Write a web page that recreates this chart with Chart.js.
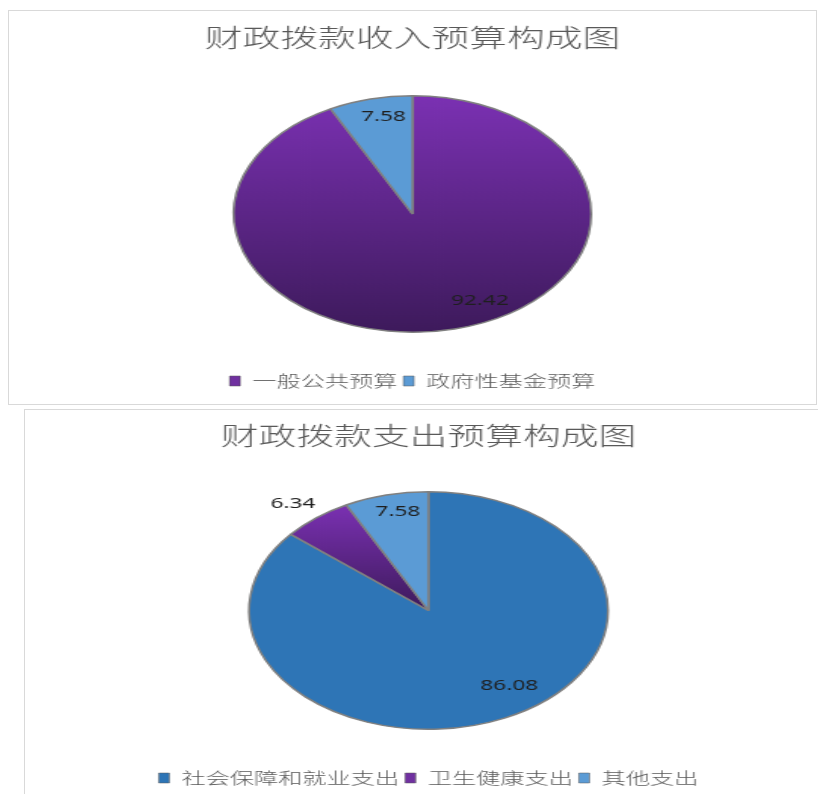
<!DOCTYPE html>
<html>
<head>
<meta charset="utf-8">
<script src="https://cdn.jsdelivr.net/npm/chart.js@4.4.1/dist/chart.umd.min.js"></script>
<style>
  html, body { margin: 0; padding: 0; background: #ffffff; overflow: hidden; }
  body { width: 818px; height: 794px; position: relative; }
  .panel { position: absolute; border: 1px solid #d9d9d9; background: #ffffff; width: 807px; height: 393px; }
  #incomePanel { left: 8px; top: 10px; }
  #spendPanel { left: 24px; top: 409px; }
  /* the reference is stretched sideways, so the canvas is too */
  canvas { width: 807px !important; height: 393px !important; }
</style>
</head>
<body>
<div class="panel" id="incomePanel"><canvas id="incomeChart" width="534" height="393"></canvas></div>
<div class="panel" id="spendPanel"><canvas id="spendChart" width="534" height="393"></canvas></div>
<script>
// Data

const income_title = "财政拨款收入预算构成图";
const income_labels = ["一般公共预算", "政府性基金预算"];
const income_values = [92.42, 7.58];

const spend_title = "财政拨款支出预算构成图";
const spend_labels = ["社会保障和就业支出", "卫生健康支出", "其他支出"];
const spend_values = [86.08, 6.34, 7.58];

// Style

const cjk = "'Noto Sans CJK SC', 'Noto Sans', sans-serif";
const purple = ["#7b31b3", "#3d1a5b"];
const incomeColors = ["#7030a0", "#5b9bd5"];
const spendColors = ["#2e75b6", "#7030a0", "#5b9bd5"];
// label position: fraction of radius, angle nudge in degrees
const incomeLabelPos = [[0.824, -13.6], [0.842, 2.5]];
const spendLabelPos = [[0.778, -10.3], [1.173, -1.4], [0.848, 2.0]];

// purple slices get a vertical gradient over their own height
function sliceFill(context, solid, gradIndex) {
  const i = context.dataIndex;
  if (i !== gradIndex) return solid[i];
  const chart = context.chart;
  const area = chart.chartArea;
  if (!area) return solid[i];
  const vals = context.dataset.data;
  const total = vals.reduce((a, b) => a + b, 0);
  let before = 0;
  for (let k = 0; k < i; k++) before += vals[k];
  const a0 = -Math.PI / 2 + 2 * Math.PI * before / total;
  const a1 = a0 + 2 * Math.PI * vals[i] / total;
  const cy = (area.top + area.bottom) / 2;
  const r = Math.min(area.width, area.height) / 2;
  const ys = [cy, cy + r * Math.sin(a0), cy + r * Math.sin(a1)];
  if (a0 <= Math.PI / 2 && a1 >= Math.PI / 2) ys.push(cy + r);
  if (a0 <= -Math.PI / 2 + 1e-9 || a1 >= 1.5 * Math.PI - 1e-9) ys.push(cy - r);
  const g = chart.ctx.createLinearGradient(0, Math.min(...ys), 0, Math.max(...ys));
  g.addColorStop(0, purple[0]);
  g.addColorStop(1, purple[1]);
  return g;
}

const valueLabels = {
  id: "valueLabels",
  afterDatasetsDraw(chart, args, opts) {
    const ctx = chart.ctx;
    const meta = chart.getDatasetMeta(0);
    const data = chart.data.datasets[0].data;
    ctx.save();
    ctx.font = "15px 'Noto Sans', sans-serif";
    ctx.fillStyle = "#1f1f1f";
    ctx.textAlign = "center";
    ctx.textBaseline = "middle";
    meta.data.forEach(function (arc, i) {
      const p = arc.getProps(["x", "y", "startAngle", "endAngle", "outerRadius"], true);
      const pos = opts.pos[i];
      const mid = (p.startAngle + p.endAngle) / 2 + pos[1] * Math.PI / 180;
      const r = p.outerRadius * pos[0];
      ctx.fillText(data[i].toFixed(2), p.x + Math.cos(mid) * r, p.y + Math.sin(mid) * r);
    });
    ctx.restore();
  },
};

function makeConfig(title, labels, values, colors, gradIndex, labelPos, pad) {
  return {
    type: "pie",
    data: {
      labels: labels,
      datasets: [{
        data: values,
        backgroundColor: (c) => sliceFill(c, colors, gradIndex),
        borderColor: "#808080",
        borderWidth: 1.5,
        hoverOffset: 0,
      }],
    },
    options: {
      responsive: false,
      devicePixelRatio: 1,
      animation: false,
      events: [],
      layout: { padding: { top: 0, bottom: pad.bottom, left: 0, right: 0 } },
      plugins: {
        title: {
          display: true,
          text: title,
          color: "#595959",
          font: { family: cjk, size: 25, weight: 300, lineHeight: 1.2 },
          padding: { top: pad.titleTop, bottom: pad.titleBottom },
        },
        legend: {
          position: "bottom",
          title: { display: true, text: "", padding: { top: pad.legendGap, bottom: 0 }, font: { size: 10, lineHeight: 1 } },
          labels: {
            boxWidth: 7,
            boxHeight: 10,
            padding: 4,
            color: "#595959",
            font: { family: cjk, size: 16, weight: 300 },
            generateLabels: function (chart) {
              return chart.data.labels.map(function (text, i) {
                return {
                  text: text,
                  fillStyle: colors[i],
                  strokeStyle: "#595959",
                  lineWidth: 0.5,
                  fontColor: "#595959",
                  index: i,
                  hidden: false,
                };
              });
            },
          },
        },
        tooltip: { enabled: false },
        valueLabels: { pos: labelPos },
      },
    },
    plugins: [valueLabels],
  };
}

const income = new Chart(document.getElementById("incomeChart"),
  makeConfig(income_title, income_labels, income_values, incomeColors, 0, incomeLabelPos,
    { titleTop: 11, titleBottom: 43, bottom: 5, legendGap: 26 }));

const spend = new Chart(document.getElementById("spendChart"),
  makeConfig(spend_title, spend_labels, spend_values, spendColors, 1, spendLabelPos,
    { titleTop: 10, titleBottom: 41, bottom: 7, legendGap: 26 }));
</script>
</body>
</html>
